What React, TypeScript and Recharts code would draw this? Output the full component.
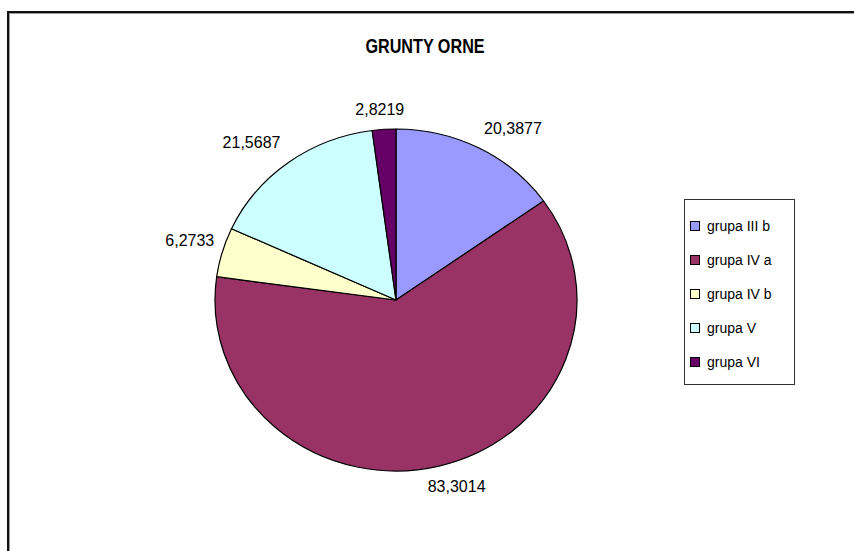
import { PieChart, Pie, Cell, Legend } from 'recharts';

const categories = ['grupa III b', 'grupa IV a', 'grupa IV b', 'grupa V', 'grupa VI'];
const values = [20.3877, 83.3014, 6.2733, 21.5687, 2.8219];
const colors = ['#9999FF', '#993366', '#FFFFCC', '#CCFFFF', '#660066'];

const data = categories.map((name, i) => ({ name, value: values[i] }));

const RADIAN = Math.PI / 180;
const SQUASH = 171 / 181; // the pie is a bit flatter than wide
const LABEL_SIZE = 16;

const fmt = (v: number) => String(v).replace('.', ',');
const clamp = (v: number) => Math.max(-1, Math.min(1, v));

function EllipseSector(props: any) {
  const { cx, cy, outerRadius, startAngle, endAngle, fill } = props;
  const rx = outerRadius;
  const ry = outerRadius * SQUASH;
  const p = (a: number) => [cx + rx * Math.cos(-a * RADIAN), cy + ry * Math.sin(-a * RADIAN)];
  const [x1, y1] = p(startAngle);
  const [x2, y2] = p(endAngle);
  const large = Math.abs(startAngle - endAngle) > 180 ? 1 : 0;
  const sweep = startAngle > endAngle ? 1 : 0;
  const d = `M${cx},${cy} L${x1},${y1} A${rx},${ry} 0 ${large} ${sweep} ${x2},${y2} Z`;
  return <path d={d} fill={fill} stroke='#000' strokeWidth={1.2} strokeLinejoin='round' />;
}

// excel style: label box sits just outside the rim, its near corner facing the slice
function renderLabel(props: any) {
  const { cx, cy, midAngle, outerRadius, value } = props;
  const ux = Math.cos(-midAngle * RADIAN);
  const uy = Math.sin(-midAngle * RADIAN);
  const text = fmt(value);
  const w = [...text].reduce((s, ch) => s + (ch === ',' ? 0.278 : 0.556), 0) * LABEL_SIZE;
  const ex = cx + outerRadius * ux;
  const ey = cy + outerRadius * SQUASH * uy;
  const x = ex + (w / 2 + 8) * clamp(ux * 2);
  const y = ey + (LABEL_SIZE / 2 + 12) * clamp(uy * 2);
  return (
    <text
      x={x}
      y={y}
      textAnchor='middle'
      dominantBaseline='central'
      fill='#000'
      fontSize={LABEL_SIZE}
      fontFamily='Liberation Sans, Arial, sans-serif'
    >
      {text}
    </text>
  );
}

function LegendBox() {
  return (
    <div
      style={{
        border: '1px solid #333',
        background: '#fff',
        width: 111,
        height: 186,
        padding: '9px 0 0 5px',
        boxSizing: 'border-box',
      }}
    >
      {categories.map((name, i) => (
        <div
          key={name}
          style={{ display: 'flex', alignItems: 'center', height: 34, fontSize: 14, color: '#000' }}
        >
          <span
            style={{
              display: 'inline-block',
              width: 8,
              height: 8,
              background: colors[i],
              border: '1px solid #000',
              marginRight: 7,
            }}
          />
          {name}
        </div>
      ))}
    </div>
  );
}

export default function App() {
  return (
    <div
      style={{
        position: 'fixed',
        left: 0,
        top: 0,
        width: 854,
        height: 551,
        background: '#fff',
        overflow: 'hidden',
        fontFamily: 'Liberation Sans, Arial, sans-serif',
      }}
    >
      {/* chart frame: right and bottom edges fall outside the picture */}
      <div
        style={{
          position: 'absolute',
          left: 7,
          top: 11,
          width: 900,
          height: 600,
          borderTop: '2px solid #111',
          borderLeft: '2px solid #111',
          boxShadow: 'inset 1px 1px 0 #999',
        }}
      />
      <div
        style={{
          position: 'absolute',
          left: 325,
          width: 200,
          top: 34,
          textAlign: 'center',
          fontSize: 21,
          fontWeight: 'bold',
          transform: 'scaleX(0.77)',
        }}
      >
        GRUNTY ORNE
      </div>
      <PieChart
        width={854}
        height={551}
        margin={{ top: 0, right: 0, bottom: 0, left: 0 }}
        style={{ position: 'absolute', left: 0, top: 0 }}
      >
        <Pie
          data={data}
          dataKey='value'
          nameKey='name'
          cx={396}
          cy={300}
          outerRadius={181}
          startAngle={90}
          endAngle={-270}
          shape={EllipseSector}
          label={renderLabel}
          labelLine={false}
          isAnimationActive={false}
        >
          {data.map((d, i) => (
            <Cell key={d.name} fill={colors[i]} />
          ))}
        </Pie>
        <Legend
          content={() => <LegendBox />}
          wrapperStyle={{ position: 'absolute', left: 684, top: 199, width: 111 }}
        />
      </PieChart>
    </div>
  );
}
